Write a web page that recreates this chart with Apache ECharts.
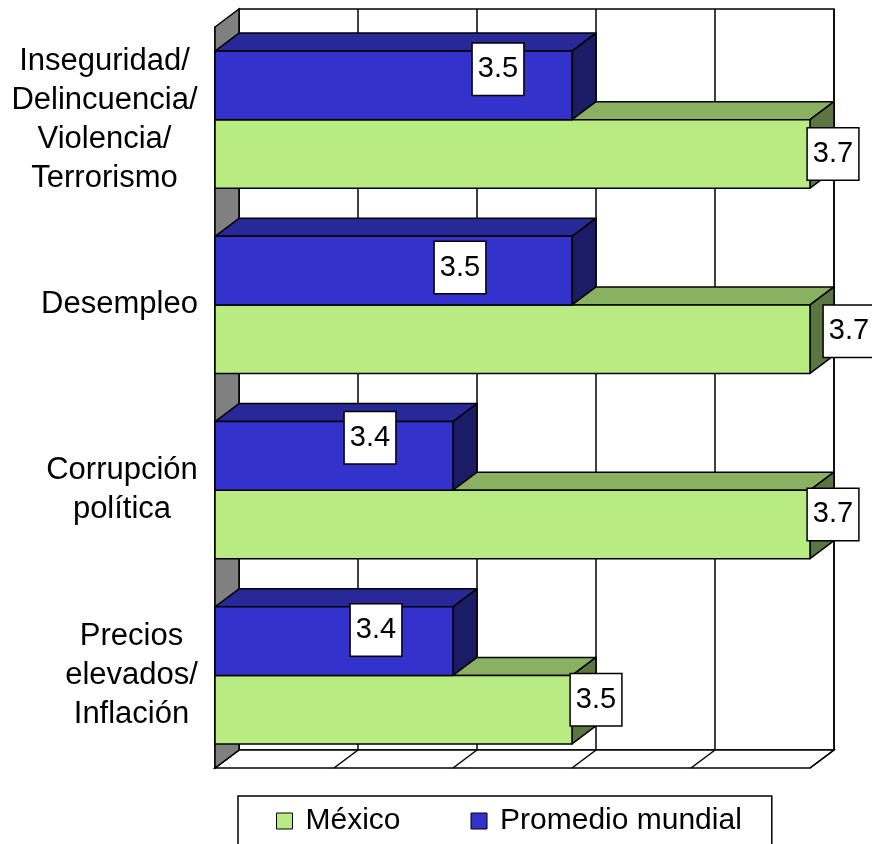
<!DOCTYPE html>
<html>
<head>
<meta charset="utf-8">
<title>Problemas principales</title>
<script src="https://cdn.jsdelivr.net/npm/echarts@6/dist/echarts.min.js"></script>
<style>
  html, body { margin: 0; padding: 0; background: #fff; }
  #chart { width: 872px; height: 844px; }
</style>
</head>
<body>
<div id="chart"></div>
<script>
var categories = ['Inseguridad/\nDelincuencia/\nViolencia/\nTerrorismo', 'Desempleo', 'Corrupción\npolítica', 'Precios\nelevados/\nInflación'];
var mexico = [3.7, 3.7, 3.7, 3.5];
var promedio = [3.5, 3.5, 3.4, 3.4];
var xTicks = [3.2, 3.3, 3.4, 3.5, 3.6, 3.7];

// where the value boxes sit, relative to the end of each bar (px)
var mexicoLabelShift = [[23, 0], [39, -8], [23, -10], [24, -10]];
var promedioLabelShift = [[-74, -16], [-112, -3], [-83, -18], [-77, -11]];

var FONT = '"Liberation Sans", Arial, sans-serif';
var DX = 24, DY = 18;   // 3d depth
var BAR = 0.37;         // bar thickness as part of the band

var chart = echarts.init(document.getElementById('chart'));

// category labels: lines centred inside a block that is right aligned on the axis
var ctx = document.createElement('canvas').getContext('2d');
ctx.font = '31px "Liberation Sans"';
var rich = {};
categories.forEach(function (cat, i) {
	var w = 0;
	cat.split('\n').forEach(function (l) { w = Math.max(w, ctx.measureText(l).width); });
	rich['c' + i] = { width: Math.ceil(w), align: 'center', fontSize: 31, lineHeight: 39, fontFamily: FONT, color: '#000' };
});

function wallItem(params, api) {
	var cs = params.coordSys;
	var top = cs.y, bottom = cs.y + cs.height, left = cs.x, right = cs.x + cs.width;
	var x = api.coord([api.value(0), 0])[0];
	var line = { stroke: '#000', lineWidth: 1.5 };
	var children = [];
	if (params.dataIndex === 0) {
		children.push({ type: 'polygon', z2: 0, shape: { points: [[left + DX, top - DY], [right + DX, top - DY], [right + DX, bottom - DY], [left + DX, bottom - DY]] }, style: { fill: '#fff', stroke: '#000', lineWidth: 1.5 } });
		children.push({ type: 'polygon', z2: 0, shape: { points: [[left, bottom], [left + DX, bottom - DY], [right + DX, bottom - DY], [right, bottom]] }, style: { fill: '#fff', stroke: '#000', lineWidth: 1.5 } });
		children.push({ type: 'polygon', z2: 2, shape: { points: [[left, top], [left + DX, top - DY], [left + DX, bottom - DY], [left, bottom]] }, style: { fill: '#808080', stroke: '#000', lineWidth: 1.5 } });
	}
	children.push({ type: 'line', z2: 1, shape: { x1: x + DX, y1: top - DY, x2: x + DX, y2: bottom - DY }, style: line });
	children.push({ type: 'line', z2: 1, shape: { x1: x, y1: bottom, x2: x + DX, y2: bottom - DY }, style: line });
	return { type: 'group', children: children };
}

function barItem(colors, upper, shifts) {
	return function (params, api) {
		var v = api.value(0), c = api.value(1);
		var end = api.coord([v, c]);
		var start = api.coord([xTicks[0], c]);
		var h = api.size([0, 1])[1] * BAR;
		var x0 = start[0], x1 = end[0];
		var y0 = upper ? end[1] - h : end[1];
		var y1 = y0 + h;
		var s = shifts[params.dataIndex];
		function face(pts, fill) {
			return { type: 'polygon', shape: { points: pts }, style: { fill: fill, stroke: '#000', lineWidth: 1.5, lineJoin: 'round' } };
		}
		return {
			type: 'group',
			children: [
				face([[x0, y0], [x0 + DX, y0 - DY], [x1 + DX, y0 - DY], [x1, y0]], colors[1]),
				face([[x1, y0], [x1 + DX, y0 - DY], [x1 + DX, y1 - DY], [x1, y1]], colors[2]),
				face([[x0, y0], [x1, y0], [x1, y1], [x0, y1]], colors[0]),
				{
					type: 'text', z2: 10,
					style: {
						text: v.toFixed(1), x: x1 + s[0], y: (y0 + y1) / 2 + s[1],
						align: 'center', verticalAlign: 'middle',
						fontSize: 29, fontFamily: FONT, fill: '#000',
						backgroundColor: '#fff', borderColor: '#000', borderWidth: 1.5,
						padding: [11, 5]
					}
				}
			]
		};
	};
}

var option = {
	animation: false,
	grid: { left: 215, right: 62, top: 27, bottom: 76 },
	legend: {
		data: ['México', 'Promedio mundial'],
		selectedMode: false,
		left: 238, top: 796,
		padding: [10, 30, 14, 38],
		itemGap: 70,
		itemWidth: 16, itemHeight: 16,
		icon: 'rect',
		backgroundColor: '#fff', borderColor: '#000', borderWidth: 1.5,
		itemStyle: { borderColor: '#000', borderWidth: 1 },
		textStyle: { fontSize: 30, fontFamily: FONT, color: '#000', padding: [0, 0, 0, 8] }
	},
	xAxis: {
		type: 'value', min: 3.2, max: 3.7, interval: 0.1,
		axisLine: { show: false }, axisTick: { show: false },
		axisLabel: { show: false }, splitLine: { show: false }
	},
	yAxis: {
		type: 'category', data: categories, inverse: true,
		axisLine: { lineStyle: { color: '#000', width: 1.5 } },
		axisTick: { length: 10, lineStyle: { color: '#000', width: 1.5 } },
		axisLabel: {
			margin: 17, fontSize: 31, lineHeight: 39, fontFamily: FONT, color: '#000',
			formatter: function (val, idx) {
				return val.split('\n').map(function (l) { return '{c' + idx + '|' + l + '}'; }).join('\n');
			},
			rich: rich
		}
	},
	series: [{
		type: 'custom', name: 'walls', z: 1, clip: false, silent: true,
		renderItem: wallItem,
		data: xTicks.map(function (v) { return [v, 0]; })
	}, {
		type: 'custom', name: 'México', z: 2, clip: false,
		itemStyle: { color: '#B8EC82' },
		renderItem: barItem(['#B8EC82', '#8AB162', '#5C7641'], false, mexicoLabelShift),
		encode: { x: 0, y: 1 },
		data: mexico.map(function (v, i) { return [v, i]; })
	}, {
		type: 'custom', name: 'Promedio mundial', z: 3, clip: false,
		itemStyle: { color: '#3333CC' },
		renderItem: barItem(['#3333CC', '#282899', '#1C1C66'], true, promedioLabelShift),
		encode: { x: 0, y: 1 },
		data: promedio.map(function (v, i) { return [v, i]; })
	}]
};
chart.setOption(option);
</script>
</body>
</html>
